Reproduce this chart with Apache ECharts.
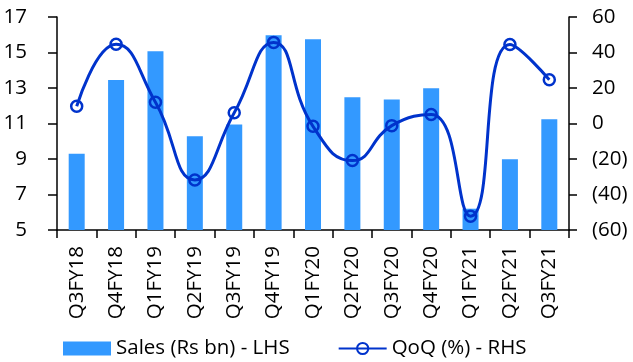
<!DOCTYPE html>
<html>
<head>
<meta charset="utf-8">
<script src="https://cdn.jsdelivr.net/npm/echarts@6/dist/echarts.min.js"></script>
<style>
  html, body { margin: 0; padding: 0; background: #fff; }
  #chart { width: 633px; height: 362px; }
</style>
</head>
<body>
<div id="chart"></div>
<script>
// Quarterly sales (Rs bn, left axis) and quarter-on-quarter change (%, right axis)
const quarters = ['Q3FY18', 'Q4FY18', 'Q1FY19', 'Q2FY19', 'Q3FY19', 'Q4FY19', 'Q1FY20',
                  'Q2FY20', 'Q3FY20', 'Q4FY20', 'Q1FY21', 'Q2FY21', 'Q3FY21'];
const sales = [9.3, 13.45, 15.07, 10.28, 10.95, 15.97, 15.74, 12.48, 12.35, 12.98, 6.2, 8.98, 11.24];
const qoq = [9.7, 44.6, 12.0, -31.8, 6.0, 45.7, -1.6, -20.9, -1.2, 5.1, -52.2, 44.5, 24.7];

const FONT = 'Open Sans';
const FS = 20.5;
const TXT = '#000';

const chart = echarts.init(document.getElementById('chart'), null, { renderer: 'canvas' });

chart.setOption({
  animation: false,
  backgroundColor: '#fff',
  textStyle: { fontFamily: FONT, color: TXT },
  grid: { left: 57, right: 64, top: 17, bottom: 132, containLabel: false },
  legend: {
    left: 58,
    top: 333,
    itemWidth: 48,
    itemHeight: 14,
    itemGap: 48,
    textStyle: { fontFamily: FONT, fontSize: FS, color: TXT },
    data: [
      { name: 'Sales (Rs bn) - LHS', icon: 'rect' },
      { name: 'QoQ (%) - RHS' }
    ]
  },
  xAxis: {
    type: 'category',
    data: quarters,
    boundaryGap: true,
    axisLine: { onZero: false, lineStyle: { color: '#000', width: 1.5 } },
    axisTick: { show: true, length: 8, lineStyle: { color: '#000', width: 1.5 } },
    axisLabel: { rotate: 90, margin: 16, fontFamily: FONT, fontSize: FS, color: TXT }
  },
  yAxis: [
    {
      type: 'value',
      min: 5, max: 17, interval: 2,
      position: 'left',
      axisLine: { show: true, lineStyle: { color: '#000', width: 1.5 } },
      axisTick: { show: true, length: 9, lineStyle: { color: '#000', width: 1.5 } },
      axisLabel: { margin: 30, fontFamily: FONT, fontSize: FS, color: TXT },
      splitLine: { show: false }
    },
    {
      type: 'value',
      min: -60, max: 60, interval: 20,
      position: 'right',
      axisLine: { show: true, lineStyle: { color: '#000', width: 1.5 } },
      axisTick: { show: true, length: 8, lineStyle: { color: '#000', width: 1.5 } },
      axisLabel: {
        margin: 23, fontFamily: FONT, fontSize: FS, color: TXT,
        formatter: v => (v < 0 ? '(' + Math.abs(v) + ')' : String(v))
      },
      splitLine: { show: false }
    }
  ],
  series: [
    {
      name: 'Sales (Rs bn) - LHS',
      type: 'bar',
      yAxisIndex: 0,
      data: sales,
      barWidth: 16,
      itemStyle: { color: '#3399FF' }
    },
    {
      name: 'QoQ (%) - RHS',
      type: 'line',
      yAxisIndex: 1,
      data: qoq,
      smooth: 0.5,
      symbol: 'circle',
      symbolSize: 11,
      lineStyle: { color: '#0033CC', width: 3 },
      itemStyle: { color: 'rgba(255,255,255,0)', borderColor: '#0033CC', borderWidth: 2.5 },
      z: 5
    }
  ]
});
</script>
</body>
</html>
